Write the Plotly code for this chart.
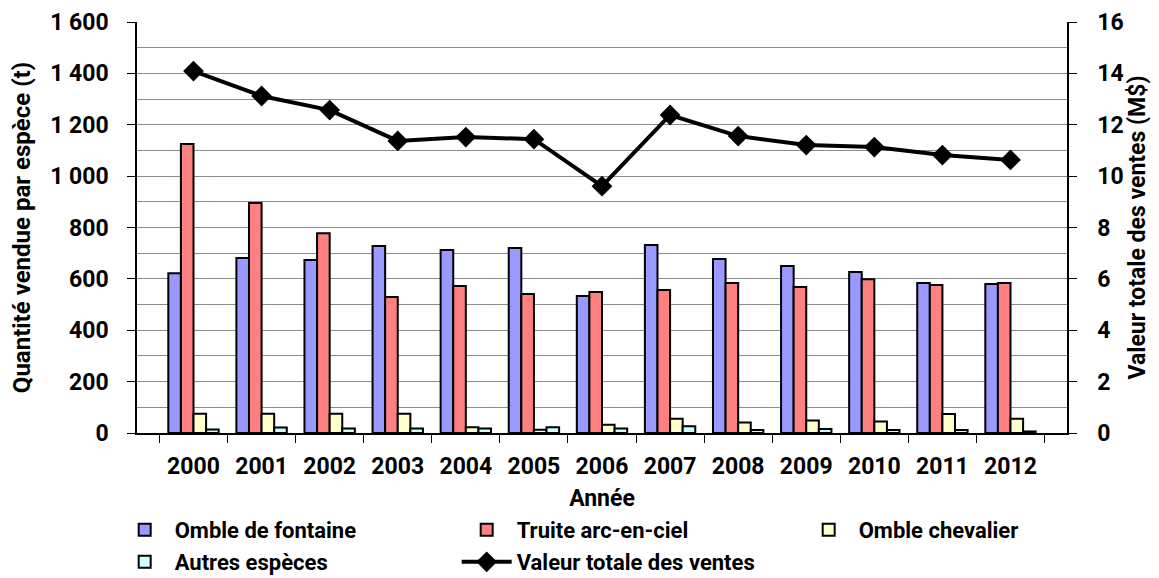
import plotly.graph_objects as go

years = ["2000", "2001", "2002", "2003", "2004", "2005", "2006", "2007", "2008", "2009", "2010", "2011", "2012"]
omble_fontaine = [622, 681, 673, 728, 712, 720, 533, 732, 677, 650, 627, 584, 580]
truite = [1125, 895, 778, 529, 572, 541, 549, 557, 584, 568, 599, 576, 584]
omble_chevalier = [75, 75, 75, 75, 22, 13, 32, 55, 41, 49, 45, 74, 55]
autres = [14, 21, 18, 18, 18, 22, 18, 26, 12, 16, 12, 12, 6]
valeur = [14.09, 13.12, 12.57, 11.37, 11.52, 11.44, 9.61, 12.38, 11.56, 11.21, 11.13, 10.82, 10.63]

FONT = "Roboto, Liberation Sans, sans-serif"
TICK = dict(family=FONT, size=23, color="black", weight="bold")
TITLE = dict(family=FONT, size=24, color="black", weight="bold")
TITLE2 = dict(family=FONT, size=23, color="black", weight="bold")

fig = go.Figure()
bar_line = dict(color="black", width=2)
fig.add_trace(go.Bar(x=years, y=omble_fontaine, name="Omble de fontaine", legend="legend",
                     marker=dict(color="#9999FF", line=bar_line)))
fig.add_trace(go.Bar(x=years, y=truite, name="Truite arc-en-ciel", legend="legend",
                     marker=dict(color="#FF8080", line=bar_line)))
fig.add_trace(go.Bar(x=years, y=omble_chevalier, name="Omble chevalier", legend="legend",
                     marker=dict(color="#FFFFCC", line=bar_line)))
fig.add_trace(go.Bar(x=years, y=autres, name="Autres espèces", legend="legend2",
                     marker=dict(color="#CCFFFF", line=bar_line)))
fig.add_trace(go.Scatter(x=years, y=valeur, name="Valeur totale des ventes", yaxis="y2",
                         legend="legend2", mode="lines+markers",
                         line=dict(color="black", width=4),
                         marker=dict(symbol="diamond", size=16, color="black")))

leg = dict(orientation="h", xanchor="left", yanchor="middle", x=-0.024,
           entrywidth=277, entrywidthmode="pixels", traceorder="normal",
           font=dict(family=FONT, size=22, color="black", weight="bold"),
           itemwidth=50, bgcolor="rgba(0,0,0,0)")

fig.update_layout(
    width=1151, height=570,
    margin=dict(l=129, r=92, t=14, b=145, autoexpand=False),
    paper_bgcolor="white", plot_bgcolor="white",
    separators=", ",
    font=TICK,
    barmode="group", bargap=0.26, bargroupgap=0,
    showlegend=True,
    legend=dict(leg, y=-0.236),
    legend2=dict(leg, y=-0.314),
    xaxis=dict(
        type="category",
        showline=True, linecolor="black", linewidth=1.5,
        ticks="outside", ticklen=8, tickcolor="black", tickson="boundaries",
        tickfont=TICK, ticklabelstandoff=12,
        title=dict(text="Année", font=dict(TICK), standoff=11),
        showgrid=False,
    ),
    yaxis=dict(
        range=[0, 1600], dtick=200, tickformat=",d",
        showline=True, linecolor="black", linewidth=1.5,
        ticks="outside", ticklen=8, tickcolor="black",
        showgrid=True, gridcolor="#8c8c8c", gridwidth=1,
        minor=dict(dtick=100, showgrid=True, gridcolor="#8c8c8c", gridwidth=1),
        tickfont=TICK, ticklabelstandoff=14,
        title=dict(text="Quantité vendue par espèce (t)", font=TITLE, standoff=14),
        zeroline=False,
    ),
    yaxis2=dict(
        range=[0, 16], dtick=2, overlaying="y", side="right",
        showline=True, linecolor="black", linewidth=1.5,
        ticks="outside", ticklen=8, tickcolor="black",
        showgrid=False, zeroline=False,
        tickfont=TICK, ticklabelstandoff=16,
        title=dict(text="Valeur totale des ventes (M$)", font=TITLE2, standoff=6),
    ),
)

fig.write_html("out.html")
